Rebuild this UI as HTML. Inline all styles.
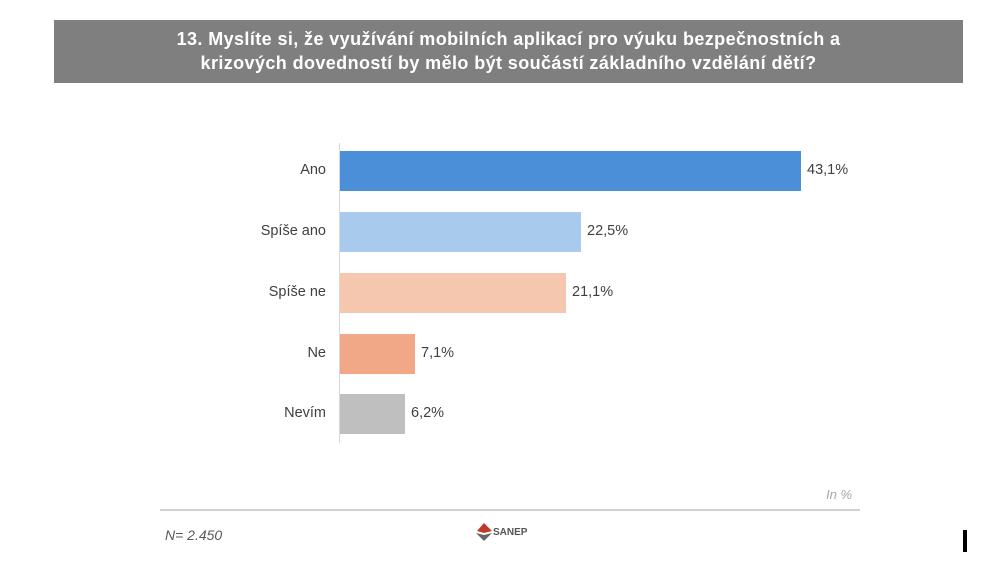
<!DOCTYPE html>
<html><head><meta charset="utf-8"><style>
body{margin:0;width:1000px;height:563px;background:#fff;font-family:"Liberation Sans",sans-serif;position:relative;overflow:hidden}
.h{position:absolute;left:54px;top:20px;width:909px;height:63px;background:#7f7f7f;color:#fff;font-weight:bold;font-size:18px;text-align:center;line-height:24px;padding-top:7px;box-sizing:border-box;letter-spacing:0.4px}
.b{position:absolute;left:340px;height:40px}
.l{position:absolute;right:674px;font-size:14.5px;color:#404040;text-align:right}
.v{position:absolute;font-size:14.5px;color:#404040}
</style></head><body>
<div class="h">13. Myslíte si, že využívání mobilních aplikací pro výuku bezpečnostních a<br>krizových dovedností by mělo být součástí základního vzdělání dětí?</div>
<div style="position:absolute;left:339px;top:143px;width:1px;height:300px;background:#d9d9d9"></div>
<div class="b" style="top:151px;width:461px;background:#4a8fd8"></div>
<div class="b" style="top:212px;width:241px;background:#a8caec"></div>
<div class="b" style="top:273px;width:226px;background:#f5c7ae"></div>
<div class="b" style="top:334px;width:75px;background:#f0a886"></div>
<div class="b" style="top:394px;width:65px;background:#bfbfbf"></div>
<div class="l" style="top:162px">Ano</div>
<div class="l" style="top:223px">Spíše ano</div>
<div class="l" style="top:284px">Spíše ne</div>
<div class="l" style="top:345px">Ne</div>
<div class="l" style="top:405px">Nevím</div>
<div class="v" style="left:807px;top:162px">43,1%</div>
<div class="v" style="left:587px;top:223px">22,5%</div>
<div class="v" style="left:572px;top:284px">21,1%</div>
<div class="v" style="left:421px;top:345px">7,1%</div>
<div class="v" style="left:411px;top:405px">6,2%</div>
<div style="position:absolute;left:826px;top:487px;font-size:13px;font-style:italic;color:#a6a6a6">In %</div>
<div style="position:absolute;left:160px;top:509px;width:700px;height:2px;background:#d0d0d0"></div>
<div style="position:absolute;left:165px;top:527px;font-size:14px;font-style:italic;color:#595959">N= 2.450</div>
<svg style="position:absolute;left:474px;top:522px" width="20" height="20"><path d="M10 1 L18 9 L10 11 L3 9 Z" fill="#c0392b"/><path d="M2 11 L10 13 L18 11 L10 19 Z" fill="#666"/></svg>
<div style="position:absolute;left:493px;top:527px;font-size:10px;font-weight:bold;color:#555">SANEP</div>
<div style="position:absolute;left:963px;top:530px;width:4px;height:22px;background:#000"></div>
</body></html>
